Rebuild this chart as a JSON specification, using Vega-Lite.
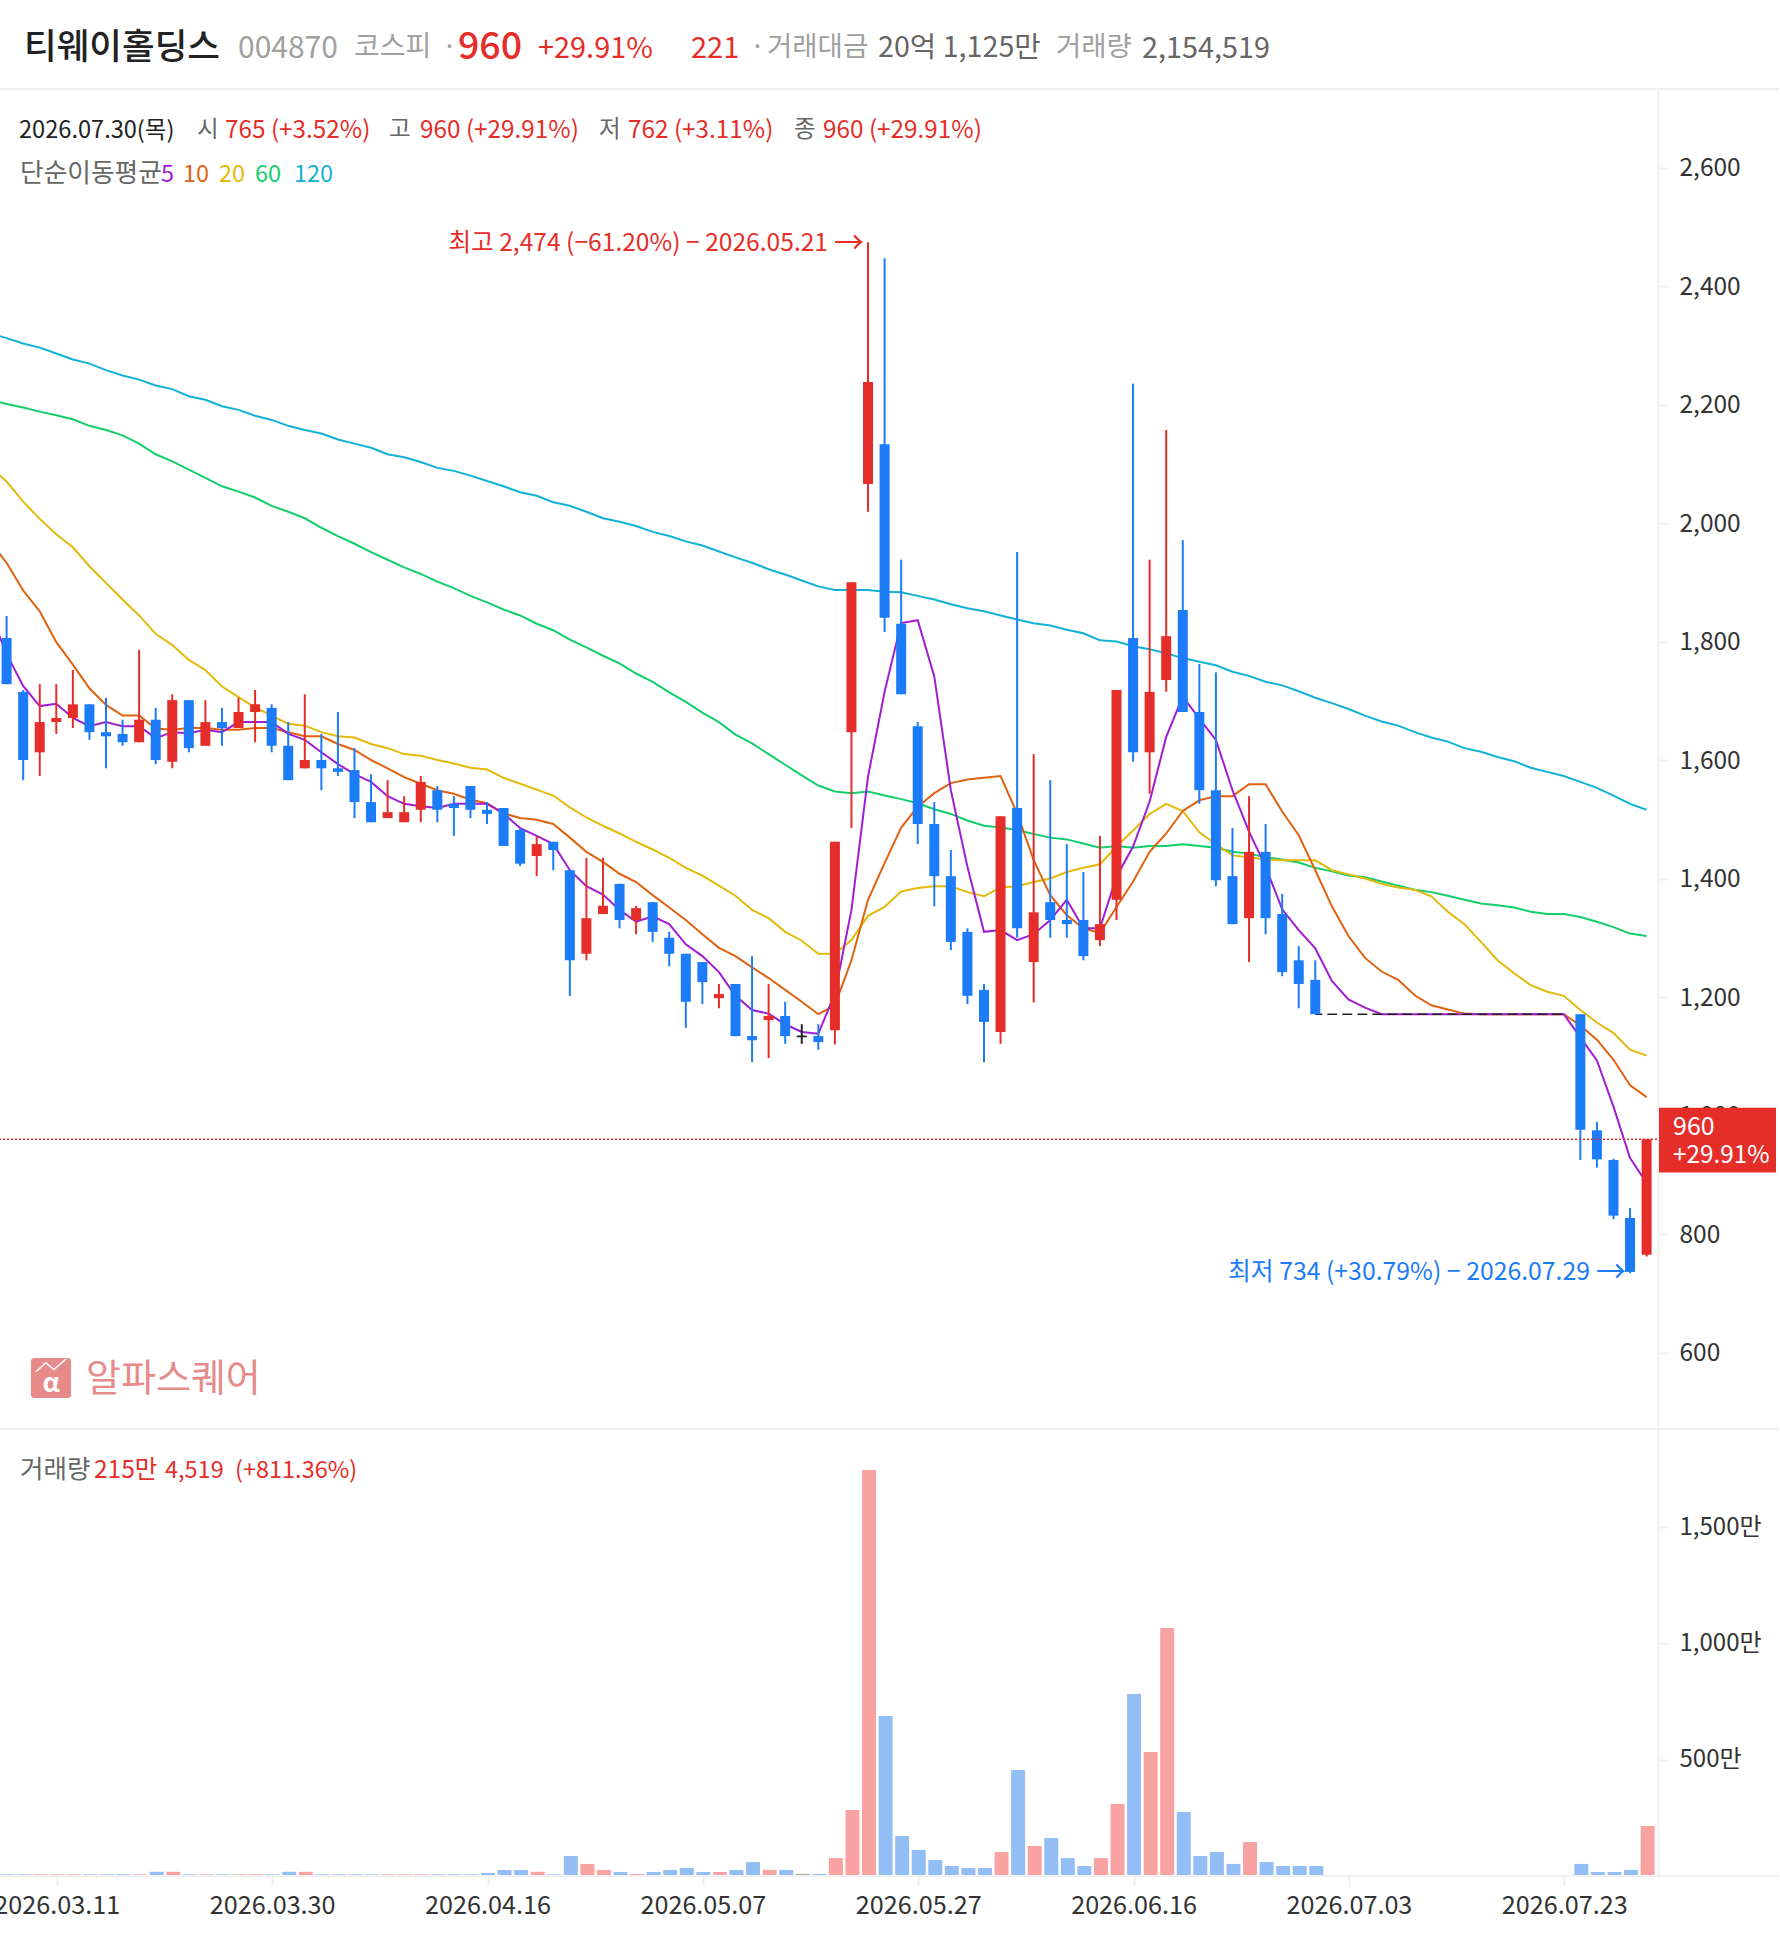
{"$schema":"https://vega.github.io/schema/vega-lite/v6.json","padding":{"left":-7,"top":0,"right":0,"bottom":0},"spacing":0,"bounds":"flush","background":"#ffffff","resolve":{"scale":{"color":"independent"}},"config":{"view":{"stroke":null},"font":"Noto Sans CJK KR","text":{"font":"Noto Sans CJK KR","baseline":"middle","align":"left"}},"datasets":{"rows":[
{"d":"2026.03.05","m5":1848,"m10":1968,"m20":2095,"m60":2208,"m120":2320},
{"d":"2026.03.06","dir":"d","o":1806,"h":1843,"l":1728,"c":1728,"v":7,"m5":1779,"m10":1933,"m20":2070,"m60":2201,"m120":2312},
{"d":"2026.03.09","dir":"d","o":1715,"h":1718,"l":1566,"c":1600,"v":7,"m5":1725,"m10":1886,"m20":2036,"m60":2195,"m120":2303},
{"d":"2026.03.10","dir":"u","o":1613,"h":1728,"l":1573,"c":1664,"v":7,"m5":1691,"m10":1851,"m20":2007,"m60":2188,"m120":2296},
{"d":"2026.03.11","dir":"u","o":1664,"h":1728,"l":1644,"c":1671,"v":7,"m5":1695,"m10":1799,"m20":1981,"m60":2182,"m120":2286},
{"d":"2026.03.12","dir":"u","o":1671,"h":1752,"l":1654,"c":1694,"v":7,"m5":1671,"m10":1761,"m20":1959,"m60":2175,"m120":2276},
{"d":"2026.03.13","dir":"d","o":1694,"h":1694,"l":1634,"c":1647,"v":7,"m5":1657,"m10":1721,"m20":1927,"m60":2164,"m120":2269},
{"d":"2026.03.16","dir":"d","o":1647,"h":1705,"l":1586,"c":1640,"v":7,"m5":1664,"m10":1693,"m20":1899,"m60":2157,"m120":2258},
{"d":"2026.03.17","dir":"d","o":1644,"h":1668,"l":1624,"c":1630,"v":7,"m5":1657,"m10":1675,"m20":1871,"m60":2148,"m120":2249},
{"d":"2026.03.18","dir":"u","o":1630,"h":1786,"l":1630,"c":1668,"v":7,"m5":1657,"m10":1675,"m20":1844,"m60":2134,"m120":2242},
{"d":"2026.03.19","dir":"d","o":1668,"h":1688,"l":1593,"c":1600,"v":18,"m5":1637,"m10":1653,"m20":1813,"m60":2116,"m120":2232},
{"d":"2026.03.20","dir":"u","o":1597,"h":1711,"l":1586,"c":1701,"v":18,"m5":1647,"m10":1651,"m20":1794,"m60":2104,"m120":2226},
{"d":"2026.03.23","dir":"d","o":1701,"h":1701,"l":1613,"c":1620,"v":7,"m5":1645,"m10":1654,"m20":1769,"m60":2090,"m120":2214},
{"d":"2026.03.24","dir":"u","o":1624,"h":1701,"l":1624,"c":1664,"v":7,"m5":1651,"m10":1654,"m20":1752,"m60":2076,"m120":2208},
{"d":"2026.03.25","dir":"d","o":1664,"h":1688,"l":1624,"c":1654,"v":7,"m5":1647,"m10":1651,"m20":1724,"m60":2062,"m120":2197},
{"d":"2026.03.26","dir":"u","o":1654,"h":1705,"l":1654,"c":1681,"v":7,"m5":1664,"m10":1651,"m20":1706,"m60":2053,"m120":2191},
{"d":"2026.03.27","dir":"u","o":1681,"h":1718,"l":1630,"c":1694,"v":7,"m5":1664,"m10":1654,"m20":1689,"m60":2043,"m120":2181},
{"d":"2026.03.30","dir":"d","o":1688,"h":1694,"l":1613,"c":1624,"v":7,"m5":1664,"m10":1654,"m20":1675,"m60":2029,"m120":2174},
{"d":"2026.03.31","dir":"d","o":1624,"h":1664,"l":1566,"c":1566,"v":18,"m5":1644,"m10":1647,"m20":1661,"m60":2019,"m120":2164},
{"d":"2026.04.01","dir":"u","o":1586,"h":1711,"l":1586,"c":1600,"v":18,"m5":1634,"m10":1640,"m20":1658,"m60":2008,"m120":2157},
{"d":"2026.04.02","dir":"d","o":1600,"h":1644,"l":1549,"c":1586,"v":7,"m5":1613,"m10":1640,"m20":1647,"m60":1992,"m120":2151},
{"d":"2026.04.03","dir":"d","o":1586,"h":1681,"l":1573,"c":1580,"v":7,"m5":1593,"m10":1627,"m20":1640,"m60":1978,"m120":2141},
{"d":"2026.04.06","dir":"d","o":1583,"h":1620,"l":1502,"c":1529,"v":7,"m5":1576,"m10":1617,"m20":1638,"m60":1965,"m120":2134},
{"d":"2026.04.07","dir":"d","o":1529,"h":1576,"l":1495,"c":1495,"v":7,"m5":1563,"m10":1600,"m20":1627,"m60":1951,"m120":2127},
{"d":"2026.04.08","dir":"u","o":1502,"h":1566,"l":1502,"c":1512,"v":7,"m5":1539,"m10":1586,"m20":1620,"m60":1938,"m120":2116},
{"d":"2026.04.09","dir":"u","o":1495,"h":1539,"l":1495,"c":1512,"v":7,"m5":1526,"m10":1571,"m20":1610,"m60":1925,"m120":2111},
{"d":"2026.04.10","dir":"u","o":1516,"h":1573,"l":1495,"c":1563,"v":7,"m5":1522,"m10":1560,"m20":1607,"m60":1914,"m120":2103},
{"d":"2026.04.13","dir":"d","o":1549,"h":1556,"l":1495,"c":1516,"v":7,"m5":1519,"m10":1549,"m20":1600,"m60":1901,"m120":2093},
{"d":"2026.04.14","dir":"d","o":1526,"h":1539,"l":1472,"c":1519,"v":7,"m5":1526,"m10":1543,"m20":1594,"m60":1890,"m120":2088},
{"d":"2026.04.15","dir":"d","o":1556,"h":1556,"l":1502,"c":1516,"v":7,"m5":1526,"m10":1533,"m20":1587,"m60":1877,"m120":2080},
{"d":"2026.04.16","dir":"d","o":1516,"h":1529,"l":1492,"c":1509,"v":13,"m5":1526,"m10":1527,"m20":1584,"m60":1866,"m120":2071},
{"d":"2026.04.17","dir":"d","o":1519,"h":1519,"l":1455,"c":1455,"v":26,"m5":1510,"m10":1510,"m20":1570,"m60":1854,"m120":2062},
{"d":"2026.04.20","dir":"d","o":1482,"h":1485,"l":1421,"c":1425,"v":26,"m5":1485,"m10":1502,"m20":1560,"m60":1844,"m120":2052},
{"d":"2026.04.21","dir":"u","o":1438,"h":1472,"l":1404,"c":1458,"v":18,"m5":1472,"m10":1499,"m20":1550,"m60":1830,"m120":2046},
{"d":"2026.04.22","dir":"d","o":1462,"h":1462,"l":1414,"c":1448,"v":7,"m5":1458,"m10":1492,"m20":1540,"m60":1819,"m120":2035},
{"d":"2026.04.23","dir":"d","o":1414,"h":1414,"l":1202,"c":1262,"v":86,"m5":1414,"m10":1469,"m20":1520,"m60":1803,"m120":2029},
{"d":"2026.04.24","dir":"u","o":1273,"h":1435,"l":1262,"c":1333,"v":52,"m5":1387,"m10":1445,"m20":1503,"m60":1790,"m120":2019},
{"d":"2026.04.27","dir":"u","o":1340,"h":1435,"l":1340,"c":1354,"v":26,"m5":1373,"m10":1428,"m20":1489,"m60":1776,"m120":2008},
{"d":"2026.04.28","dir":"d","o":1391,"h":1391,"l":1316,"c":1330,"v":17,"m5":1347,"m10":1408,"m20":1476,"m60":1763,"m120":2002},
{"d":"2026.04.29","dir":"u","o":1330,"h":1354,"l":1306,"c":1350,"v":9,"m5":1327,"m10":1394,"m20":1462,"m60":1746,"m120":1995},
{"d":"2026.04.30","dir":"d","o":1360,"h":1360,"l":1293,"c":1310,"v":17,"m5":1336,"m10":1372,"m20":1449,"m60":1732,"m120":1985},
{"d":"2026.05.04","dir":"d","o":1300,"h":1310,"l":1252,"c":1273,"v":26,"m5":1323,"m10":1351,"m20":1435,"m60":1714,"m120":1978},
{"d":"2026.05.06","dir":"d","o":1273,"h":1273,"l":1148,"c":1192,"v":34,"m5":1289,"m10":1330,"m20":1418,"m60":1698,"m120":1969},
{"d":"2026.05.07","dir":"d","o":1259,"h":1259,"l":1188,"c":1225,"v":17,"m5":1269,"m10":1306,"m20":1405,"m60":1680,"m120":1962},
{"d":"2026.05.08","dir":"u","o":1198,"h":1222,"l":1181,"c":1205,"v":17,"m5":1242,"m10":1283,"m20":1388,"m60":1664,"m120":1952},
{"d":"2026.05.11","dir":"d","o":1222,"h":1222,"l":1134,"c":1134,"v":26,"m5":1202,"m10":1269,"m20":1371,"m60":1643,"m120":1942},
{"d":"2026.05.12","dir":"d","o":1134,"h":1269,"l":1090,"c":1127,"v":60,"m5":1178,"m10":1250,"m20":1347,"m60":1628,"m120":1933},
{"d":"2026.05.13","dir":"u","o":1161,"h":1222,"l":1097,"c":1168,"v":26,"m5":1172,"m10":1232,"m20":1333,"m60":1610,"m120":1922},
{"d":"2026.05.14","dir":"d","o":1168,"h":1192,"l":1121,"c":1134,"v":26,"m5":1154,"m10":1212,"m20":1310,"m60":1592,"m120":1913},
{"d":"2026.05.15","dir":"f","o":1135,"h":1154,"l":1121,"c":1132,"v":9,"m5":1141,"m10":1192,"m20":1295,"m60":1574,"m120":1903},
{"d":"2026.05.18","dir":"d","o":1134,"h":1154,"l":1111,"c":1124,"v":9,"m5":1138,"m10":1171,"m20":1273,"m60":1557,"m120":1893},
{"d":"2026.05.19","dir":"u","o":1144,"h":1462,"l":1120,"c":1462,"v":77,"m5":1206,"m10":1186,"m20":1273,"m60":1547,"m120":1887},
{"d":"2026.05.20","dir":"u","o":1647,"h":1900,"l":1485,"c":1900,"v":284,"m5":1347,"m10":1262,"m20":1296,"m60":1544,"m120":1887},
{"d":"2026.05.21","dir":"u","o":2066,"h":2474,"l":2019,"c":2238,"v":1745,"m5":1572,"m10":1364,"m20":1337,"m60":1547,"m120":1887},
{"d":"2026.05.22","dir":"d","o":2133,"h":2447,"l":1816,"c":1840,"v":688,"m5":1715,"m10":1426,"m20":1352,"m60":1540,"m120":1884},
{"d":"2026.05.26","dir":"d","o":1830,"h":1938,"l":1711,"c":1711,"v":172,"m5":1831,"m10":1486,"m20":1378,"m60":1534,"m120":1883},
{"d":"2026.05.27","dir":"d","o":1657,"h":1664,"l":1458,"c":1492,"v":112,"m5":1836,"m10":1521,"m20":1384,"m60":1527,"m120":1877},
{"d":"2026.05.28","dir":"d","o":1492,"h":1529,"l":1353,"c":1404,"v":69,"m5":1741,"m10":1544,"m20":1387,"m60":1517,"m120":1871},
{"d":"2026.05.29","dir":"d","o":1404,"h":1448,"l":1279,"c":1293,"v":43,"m5":1549,"m10":1561,"m20":1387,"m60":1509,"m120":1863},
{"d":"2026.06.01","dir":"d","o":1310,"h":1316,"l":1188,"c":1202,"v":34,"m5":1420,"m10":1567,"m20":1377,"m60":1498,"m120":1856},
{"d":"2026.06.02","dir":"d","o":1212,"h":1222,"l":1090,"c":1158,"v":34,"m5":1310,"m10":1570,"m20":1370,"m60":1489,"m120":1851},
{"d":"2026.06.04","dir":"u","o":1141,"h":1505,"l":1121,"c":1505,"v":103,"m5":1313,"m10":1573,"m20":1385,"m60":1486,"m120":1844},
{"d":"2026.06.05","dir":"d","o":1519,"h":1951,"l":1300,"c":1316,"v":456,"m5":1296,"m10":1510,"m20":1387,"m60":1482,"m120":1837},
{"d":"2026.06.08","dir":"u","o":1259,"h":1610,"l":1191,"c":1343,"v":129,"m5":1306,"m10":1431,"m20":1394,"m60":1475,"m120":1831},
{"d":"2026.06.09","dir":"d","o":1360,"h":1566,"l":1300,"c":1330,"v":163,"m5":1330,"m10":1372,"m20":1400,"m60":1469,"m120":1827},
{"d":"2026.06.10","dir":"d","o":1330,"h":1458,"l":1300,"c":1323,"v":77,"m5":1364,"m10":1338,"m20":1411,"m60":1466,"m120":1820},
{"d":"2026.06.11","dir":"d","o":1330,"h":1411,"l":1262,"c":1269,"v":43,"m5":1316,"m10":1316,"m20":1418,"m60":1459,"m120":1814},
{"d":"2026.06.12","dir":"u","o":1296,"h":1472,"l":1286,"c":1323,"v":77,"m5":1316,"m10":1308,"m20":1424,"m60":1452,"m120":1802},
{"d":"2026.06.15","dir":"u","o":1364,"h":1718,"l":1330,"c":1718,"v":310,"m5":1403,"m10":1352,"m20":1454,"m60":1455,"m120":1800},
{"d":"2026.06.16","dir":"d","o":1806,"h":2235,"l":1597,"c":1613,"v":782,"m5":1454,"m10":1395,"m20":1481,"m60":1452,"m120":1792},
{"d":"2026.06.17","dir":"u","o":1613,"h":1938,"l":1543,"c":1715,"v":533,"m5":1530,"m10":1445,"m20":1509,"m60":1455,"m120":1787},
{"d":"2026.06.18","dir":"u","o":1735,"h":2157,"l":1715,"c":1809,"v":1066,"m5":1639,"m10":1476,"m20":1526,"m60":1455,"m120":1780},
{"d":"2026.06.19","dir":"d","o":1853,"h":1971,"l":1681,"c":1681,"v":275,"m5":1707,"m10":1514,"m20":1514,"m60":1458,"m120":1772},
{"d":"2026.06.22","dir":"d","o":1681,"h":1762,"l":1526,"c":1549,"v":86,"m5":1670,"m10":1532,"m20":1478,"m60":1455,"m120":1766},
{"d":"2026.06.23","dir":"d","o":1549,"h":1748,"l":1387,"c":1397,"v":103,"m5":1634,"m10":1539,"m20":1458,"m60":1452,"m120":1760},
{"d":"2026.06.24","dir":"d","o":1404,"h":1485,"l":1323,"c":1323,"v":52,"m5":1549,"m10":1539,"m20":1439,"m60":1445,"m120":1749},
{"d":"2026.06.25","dir":"u","o":1333,"h":1539,"l":1259,"c":1445,"v":146,"m5":1479,"m10":1559,"m20":1436,"m60":1442,"m120":1742},
{"d":"2026.06.26","dir":"d","o":1445,"h":1492,"l":1306,"c":1333,"v":60,"m5":1420,"m10":1559,"m20":1432,"m60":1436,"m120":1732},
{"d":"2026.06.29","dir":"d","o":1340,"h":1374,"l":1235,"c":1242,"v":43,"m5":1348,"m10":1513,"m20":1431,"m60":1432,"m120":1726},
{"d":"2026.06.30","dir":"d","o":1262,"h":1286,"l":1181,"c":1222,"v":43,"m5":1313,"m10":1473,"m20":1431,"m60":1427,"m120":1716},
{"d":"2026.07.01","dir":"d","o":1229,"h":1262,"l":1171,"c":1171,"v":43,"halt":1171,"m5":1282,"m10":1414,"m20":1431,"m60":1418,"m120":1705},
{"d":"2026.07.02","halt":1171,"m5":1227,"m10":1353,"m20":1414,"m60":1412,"m120":1696},
{"d":"2026.07.03","halt":1171,"m5":1196,"m10":1303,"m20":1407,"m60":1405,"m120":1686},
{"d":"2026.07.06","halt":1171,"m5":1182,"m10":1266,"m20":1400,"m60":1402,"m120":1675},
{"d":"2026.07.07","halt":1171,"m5":1171,"m10":1243,"m20":1391,"m60":1395,"m120":1665},
{"d":"2026.07.08","halt":1171,"m5":1171,"m10":1229,"m20":1385,"m60":1388,"m120":1658},
{"d":"2026.07.09","halt":1171,"m5":1171,"m10":1203,"m20":1381,"m60":1381,"m120":1647},
{"d":"2026.07.10","halt":1171,"m5":1171,"m10":1186,"m20":1370,"m60":1377,"m120":1638},
{"d":"2026.07.13","halt":1171,"m5":1171,"m10":1179,"m20":1344,"m60":1371,"m120":1631},
{"d":"2026.07.14","halt":1171,"m5":1171,"m10":1172,"m20":1323,"m60":1364,"m120":1620},
{"d":"2026.07.15","halt":1171,"m5":1171,"m10":1171,"m20":1293,"m60":1358,"m120":1614},
{"d":"2026.07.16","halt":1171,"m5":1171,"m10":1171,"m20":1262,"m60":1355,"m120":1605},
{"d":"2026.07.20","halt":1171,"m5":1171,"m10":1171,"m20":1240,"m60":1351,"m120":1598},
{"d":"2026.07.21","halt":1171,"m5":1171,"m10":1171,"m20":1220,"m60":1344,"m120":1587},
{"d":"2026.07.22","halt":1171,"m5":1171,"m10":1171,"m20":1209,"m60":1340,"m120":1580},
{"d":"2026.07.23","halt":1171,"m5":1171,"m10":1171,"m20":1202,"m60":1340,"m120":1573},
{"d":"2026.07.24","dir":"d","o":1171,"h":1171,"l":925,"c":976,"v":52,"m5":1132,"m10":1152,"m20":1178,"m60":1335,"m120":1563},
{"d":"2026.07.27","dir":"d","o":975,"h":989,"l":912,"c":926,"v":17,"m5":1093,"m10":1128,"m20":1157,"m60":1327,"m120":1553},
{"d":"2026.07.28","dir":"d","o":925,"h":927,"l":825,"c":831,"v":17,"m5":1015,"m10":1094,"m20":1139,"m60":1318,"m120":1540},
{"d":"2026.07.29","dir":"d","o":827,"h":844,"l":734,"c":736,"v":26,"m5":928,"m10":1051,"m20":1111,"m60":1307,"m120":1526},
{"d":"2026.07.30","dir":"u","o":765,"h":960,"l":762,"c":960,"v":215,"m5":886,"m10":1031,"m20":1101,"m60":1303,"m120":1516}
]},
"vconcat":[
{"width":1780,"height":89,"data":{"values":[{}]},"layer":[
{"mark":{"type":"rule","stroke":"#eeeeee","strokeWidth":2},"encoding":{"x":{"value":0},"x2":{"value":1780},"y":{"value":89}}},
{"mark":{"type":"text","x":25,"y":48,"text":"티웨이홀딩스","fontSize":35.5,"fontWeight":500,"fill":"#222222"}},
{"mark":{"type":"text","x":239,"y":49,"text":"004870","fontSize":30,"fill":"#a0a0a0"}},
{"mark":{"type":"text","x":355,"y":48,"text":"코스피","fontSize":28,"fill":"#a0a0a0"}},
{"mark":{"type":"text","x":443,"y":48,"text":"·","fontSize":27,"fill":"#a0a0a0"}},
{"mark":{"type":"text","x":459,"y":48,"text":"960","fontSize":37.5,"fontWeight":500,"fill":"#e52e2a"}},
{"mark":{"type":"text","x":539,"y":49,"text":"+29.91%","fontSize":28.9,"fill":"#e52e2a"}},
{"mark":{"type":"text","x":692,"y":49,"text":"221","fontSize":29,"fill":"#e52e2a"}},
{"mark":{"type":"text","x":751,"y":48,"text":"·","fontSize":27,"fill":"#a0a0a0"}},
{"mark":{"type":"text","x":768,"y":48,"text":"거래대금","fontSize":27.5,"fill":"#a0a0a0"}},
{"mark":{"type":"text","x":879,"y":48,"text":"20억 1,125만","fontSize":28.7,"fill":"#666666"}},
{"mark":{"type":"text","x":1057,"y":48,"text":"거래량","fontSize":27.5,"fill":"#a0a0a0"}},
{"mark":{"type":"text","x":1143,"y":49,"text":"2,154,519","fontSize":28.8,"fill":"#666666"}}
]},
{"width":1780,"height":1340,"data":{"name":"rows"},"layer":[
{"mark":{"type":"line","stroke":"#12b2d6","strokeWidth":2,"clip":true},"encoding":{"x":{"field":"d","type":"ordinal","axis":null,"sort":null,"scale":{"type":"band","paddingInner":0,"paddingOuter":0,"range":[-17.25,1655.9]}},"y":{"field":"m120","type":"quantitative","scale":{"domain":[470.9,2732.5],"nice":false,"zero":false},"axis":{"orient":"right","offset":-121,"title":null,"grid":false,"values":[600,800,1000,1200,1400,1600,1800,2000,2200,2400,2600],"labelExpr":"format(datum.value,',')","domainColor":"#f0f0f0","domainWidth":2,"tickColor":"#f0f0f0","tickWidth":2,"tickSize":10,"labelPadding":11,"labelOffset":1,"labelFontSize":24.5,"labelColor":"#333333","labelFont":"Noto Sans CJK KR","labelBound":false,"labelFlush":false}}}},
{"mark":{"type":"line","stroke":"#12cf6b","strokeWidth":2,"clip":true},"encoding":{"x":{"field":"d","type":"ordinal"},"y":{"field":"m60","type":"quantitative"}}},
{"mark":{"type":"line","stroke":"#e3b90b","strokeWidth":2,"clip":true},"encoding":{"x":{"field":"d","type":"ordinal"},"y":{"field":"m20","type":"quantitative"}}},
{"mark":{"type":"line","stroke":"#e0620e","strokeWidth":2,"clip":true},"encoding":{"x":{"field":"d","type":"ordinal"},"y":{"field":"m10","type":"quantitative"}}},
{"mark":{"type":"line","stroke":"#a01ed2","strokeWidth":2,"clip":true},"encoding":{"x":{"field":"d","type":"ordinal"},"y":{"field":"m5","type":"quantitative"}}},
{"transform":[{"filter":"isValid(datum.halt)"}],"mark":{"type":"line","stroke":"#222222","strokeWidth":1.5,"strokeDash":[10,5],"strokeDashOffset":3},"encoding":{"x":{"field":"d","type":"ordinal"},"y":{"field":"halt","type":"quantitative"}}},
{"transform":[{"filter":"isValid(datum.o)"}],"mark":{"type":"rule","strokeWidth":2,"clip":true},"encoding":{"x":{"field":"d","type":"ordinal"},"y":{"field":"l","type":"quantitative"},"y2":{"field":"h"},"color":{"field":"dir","type":"nominal","legend":null,"scale":{"domain":["u","d","f"],"range":["#e52e2a","#1c7cf8","#222222"]}}}},
{"transform":[{"filter":"isValid(datum.o)"}],"mark":{"type":"bar","width":10,"clip":true},"encoding":{"x":{"field":"d","type":"ordinal"},"y":{"field":"o","type":"quantitative"},"y2":{"field":"c"},"color":{"field":"dir","type":"nominal","legend":null}}},
{"data":{"values":[{}]},"mark":{"type":"rule","stroke":"#e52e2a","strokeWidth":1.5,"strokeDash":[2,2]},"encoding":{"y":{"datum":960},"x":{"value":0},"x2":{"value":1659}}},
{"data":{"values":[{}]},"mark":{"type":"rect","fill":"#e52e2a"},"encoding":{"x":{"value":1660},"x2":{"value":1777},"y":{"datum":1013},"y2":{"datum":904}}},
{"data":{"values":[{}]},"mark":{"type":"text","text":"960","fontSize":25,"fill":"#ffffff"},"encoding":{"x":{"value":1674},"y":{"datum":980}}},
{"data":{"values":[{}]},"mark":{"type":"text","text":"+29.91%","fontSize":24.3,"fill":"#ffffff"},"encoding":{"x":{"value":1674},"y":{"datum":931}}},
{"data":{"values":[{}]},"mark":{"type":"text","text":"최고 2,474 (−61.20%) − 2026.05.21","fontSize":24.6,"fill":"#e52e2a","align":"right","dx":-40},"encoding":{"x":{"datum":"2026.05.21","type":"ordinal"},"y":{"datum":2471}}},
{"data":{"values":[{}]},"mark":{"type":"text","text":"→","fontSize":30,"fill":"#e52e2a","align":"right","dx":-4},"encoding":{"x":{"datum":"2026.05.21","type":"ordinal"},"y":{"datum":2471}}},
{"data":{"values":[{}]},"mark":{"type":"text","text":"최저 734 (+30.79%) − 2026.07.29","fontSize":24.8,"fill":"#1c7cf8","align":"right","dx":-40},"encoding":{"x":{"datum":"2026.07.29","type":"ordinal"},"y":{"datum":734}}},
{"data":{"values":[{}]},"mark":{"type":"text","text":"→","fontSize":30,"fill":"#1c7cf8","align":"right","dx":-4},"encoding":{"x":{"datum":"2026.07.29","type":"ordinal"},"y":{"datum":734}}},
{"data":{"values":[{}]},"mark":{"type":"text","x":20,"y":42,"text":"2026.07.30(목)","fontSize":23.6,"fill":"#222222"}},
{"data":{"values":[{}]},"mark":{"type":"text","x":198,"y":41,"text":"시","fontSize":23.5,"fill":"#666666"}},
{"data":{"values":[{}]},"mark":{"type":"text","x":226,"y":42,"text":"765 (+3.52%)","fontSize":24.3,"fill":"#e52e2a"}},
{"data":{"values":[{}]},"mark":{"type":"text","x":390,"y":41,"text":"고","fontSize":23.5,"fill":"#666666"}},
{"data":{"values":[{}]},"mark":{"type":"text","x":421,"y":42,"text":"960 (+29.91%)","fontSize":24.3,"fill":"#e52e2a"}},
{"data":{"values":[{}]},"mark":{"type":"text","x":600,"y":41,"text":"저","fontSize":23.5,"fill":"#666666"}},
{"data":{"values":[{}]},"mark":{"type":"text","x":629,"y":42,"text":"762 (+3.11%)","fontSize":24.3,"fill":"#e52e2a"}},
{"data":{"values":[{}]},"mark":{"type":"text","x":795,"y":41,"text":"종","fontSize":23.5,"fill":"#666666"}},
{"data":{"values":[{}]},"mark":{"type":"text","x":824,"y":42,"text":"960 (+29.91%)","fontSize":24.3,"fill":"#e52e2a"}},
{"data":{"values":[{}]},"mark":{"type":"text","x":21,"y":85,"text":"단순이동평균","fontSize":25.7,"fill":"#666666"}},
{"data":{"values":[{}]},"mark":{"type":"text","x":162,"y":86,"text":"5","fontSize":23.5,"fill":"#a01ed2"}},
{"data":{"values":[{}]},"mark":{"type":"text","x":184,"y":86,"text":"10","fontSize":23.5,"fill":"#e0620e"}},
{"data":{"values":[{}]},"mark":{"type":"text","x":220,"y":86,"text":"20","fontSize":23.5,"fill":"#e3b90b"}},
{"data":{"values":[{}]},"mark":{"type":"text","x":256,"y":86,"text":"60","fontSize":23.5,"fill":"#12cf6b"}},
{"data":{"values":[{}]},"mark":{"type":"text","x":295,"y":86,"text":"120","fontSize":23.5,"fill":"#12b2d6"}},
{"data":{"values":[{}]},"mark":{"type":"rect","fill":"#e68a8a","cornerRadius":3},"encoding":{"x":{"value":32},"x2":{"value":72},"y":{"value":1269},"y2":{"value":1309}}},
{"data":{"values":[{}]},"mark":{"type":"point","shape":"M-1,0.25 L-0.35,-0.35 L0.2,0.1 L1,-0.6","filled":false,"stroke":"#ffffff","strokeWidth":1.5,"size":900,"opacity":1},"encoding":{"x":{"value":52},"y":{"value":1279}}},
{"data":{"values":[{}]},"mark":{"type":"text","x":52,"y":1295,"text":"α","fontSize":26,"fontWeight":700,"fill":"#ffffff","align":"center"}},
{"data":{"values":[{}]},"mark":{"type":"text","x":87,"y":1291,"text":"알파스퀘어","fontSize":38,"fill":"#e68a8a"}},
{"data":{"values":[{}]},"mark":{"type":"rule","stroke":"#eeeeee","strokeWidth":2},"encoding":{"x":{"value":0},"x2":{"value":1780},"y":{"value":1340}}}
]},
{"width":1780,"height":447,"data":{"name":"rows"},"layer":[
{"transform":[{"filter":"isValid(datum.v)"}],"mark":{"type":"bar","width":14,"clip":true},"encoding":{"x":{"field":"d","type":"ordinal","sort":null,"scale":{"type":"band","paddingInner":0,"paddingOuter":0,"range":[-16.25,1656.9],"domain":["2026.03.05","2026.03.06","2026.03.09","2026.03.10","2026.03.11","2026.03.12","2026.03.13","2026.03.16","2026.03.17","2026.03.18","2026.03.19","2026.03.20","2026.03.23","2026.03.24","2026.03.25","2026.03.26","2026.03.27","2026.03.30","2026.03.31","2026.04.01","2026.04.02","2026.04.03","2026.04.06","2026.04.07","2026.04.08","2026.04.09","2026.04.10","2026.04.13","2026.04.14","2026.04.15","2026.04.16","2026.04.17","2026.04.20","2026.04.21","2026.04.22","2026.04.23","2026.04.24","2026.04.27","2026.04.28","2026.04.29","2026.04.30","2026.05.04","2026.05.06","2026.05.07","2026.05.08","2026.05.11","2026.05.12","2026.05.13","2026.05.14","2026.05.15","2026.05.18","2026.05.19","2026.05.20","2026.05.21","2026.05.22","2026.05.26","2026.05.27","2026.05.28","2026.05.29","2026.06.01","2026.06.02","2026.06.04","2026.06.05","2026.06.08","2026.06.09","2026.06.10","2026.06.11","2026.06.12","2026.06.15","2026.06.16","2026.06.17","2026.06.18","2026.06.19","2026.06.22","2026.06.23","2026.06.24","2026.06.25","2026.06.26","2026.06.29","2026.06.30","2026.07.01","2026.07.02","2026.07.03","2026.07.06","2026.07.07","2026.07.08","2026.07.09","2026.07.10","2026.07.13","2026.07.14","2026.07.15","2026.07.16","2026.07.20","2026.07.21","2026.07.22","2026.07.23","2026.07.24","2026.07.27","2026.07.28","2026.07.29","2026.07.30"]},"axis":{"title":null,"values":["2026.03.11","2026.03.30","2026.04.16","2026.05.07","2026.05.27","2026.06.16","2026.07.03","2026.07.23"],"labelAngle":0,"domain":false,"tickColor":"#f0f0f0","tickWidth":2,"tickSize":10,"labelPadding":7,"labelFontSize":25.2,"labelColor":"#333333","labelFont":"Noto Sans CJK KR","labelOverlap":false,"grid":false}},"y":{"field":"v","type":"quantitative","scale":{"domain":[0,1921.7],"nice":false},"axis":{"orient":"right","offset":-121,"title":null,"grid":false,"values":[500,1000,1500],"labelExpr":"format(datum.value,',')+'만'","domainColor":"#f0f0f0","domainWidth":2,"tickColor":"#f0f0f0","tickWidth":2,"tickSize":10,"labelPadding":11,"labelFontSize":24,"labelColor":"#333333","labelFont":"Noto Sans CJK KR"}},"color":{"field":"dir","type":"nominal","legend":null,"scale":{"domain":["u","d","f"],"range":["#f9a2a2","#93bdf5","#a6a6a6"]}}}},
{"data":{"values":[{}]},"mark":{"type":"rule","stroke":"#f2f2f2","strokeWidth":2},"encoding":{"x":{"value":0},"x2":{"value":1780},"y":{"value":447}}},
{"data":{"values":[{}]},"mark":{"type":"text","x":21,"y":41,"text":"거래량","fontSize":25.5,"fill":"#666666"}},
{"data":{"values":[{}]},"mark":{"type":"text","x":95,"y":42,"text":"215만","fontSize":24.5,"fill":"#e52e2a"}},
{"data":{"values":[{}]},"mark":{"type":"text","x":166,"y":42,"text":"4,519","fontSize":23.5,"fill":"#e52e2a"}},
{"data":{"values":[{}]},"mark":{"type":"text","x":236,"y":42,"text":"(+811.36%)","fontSize":23.5,"fill":"#e52e2a"}}
]}
]}
